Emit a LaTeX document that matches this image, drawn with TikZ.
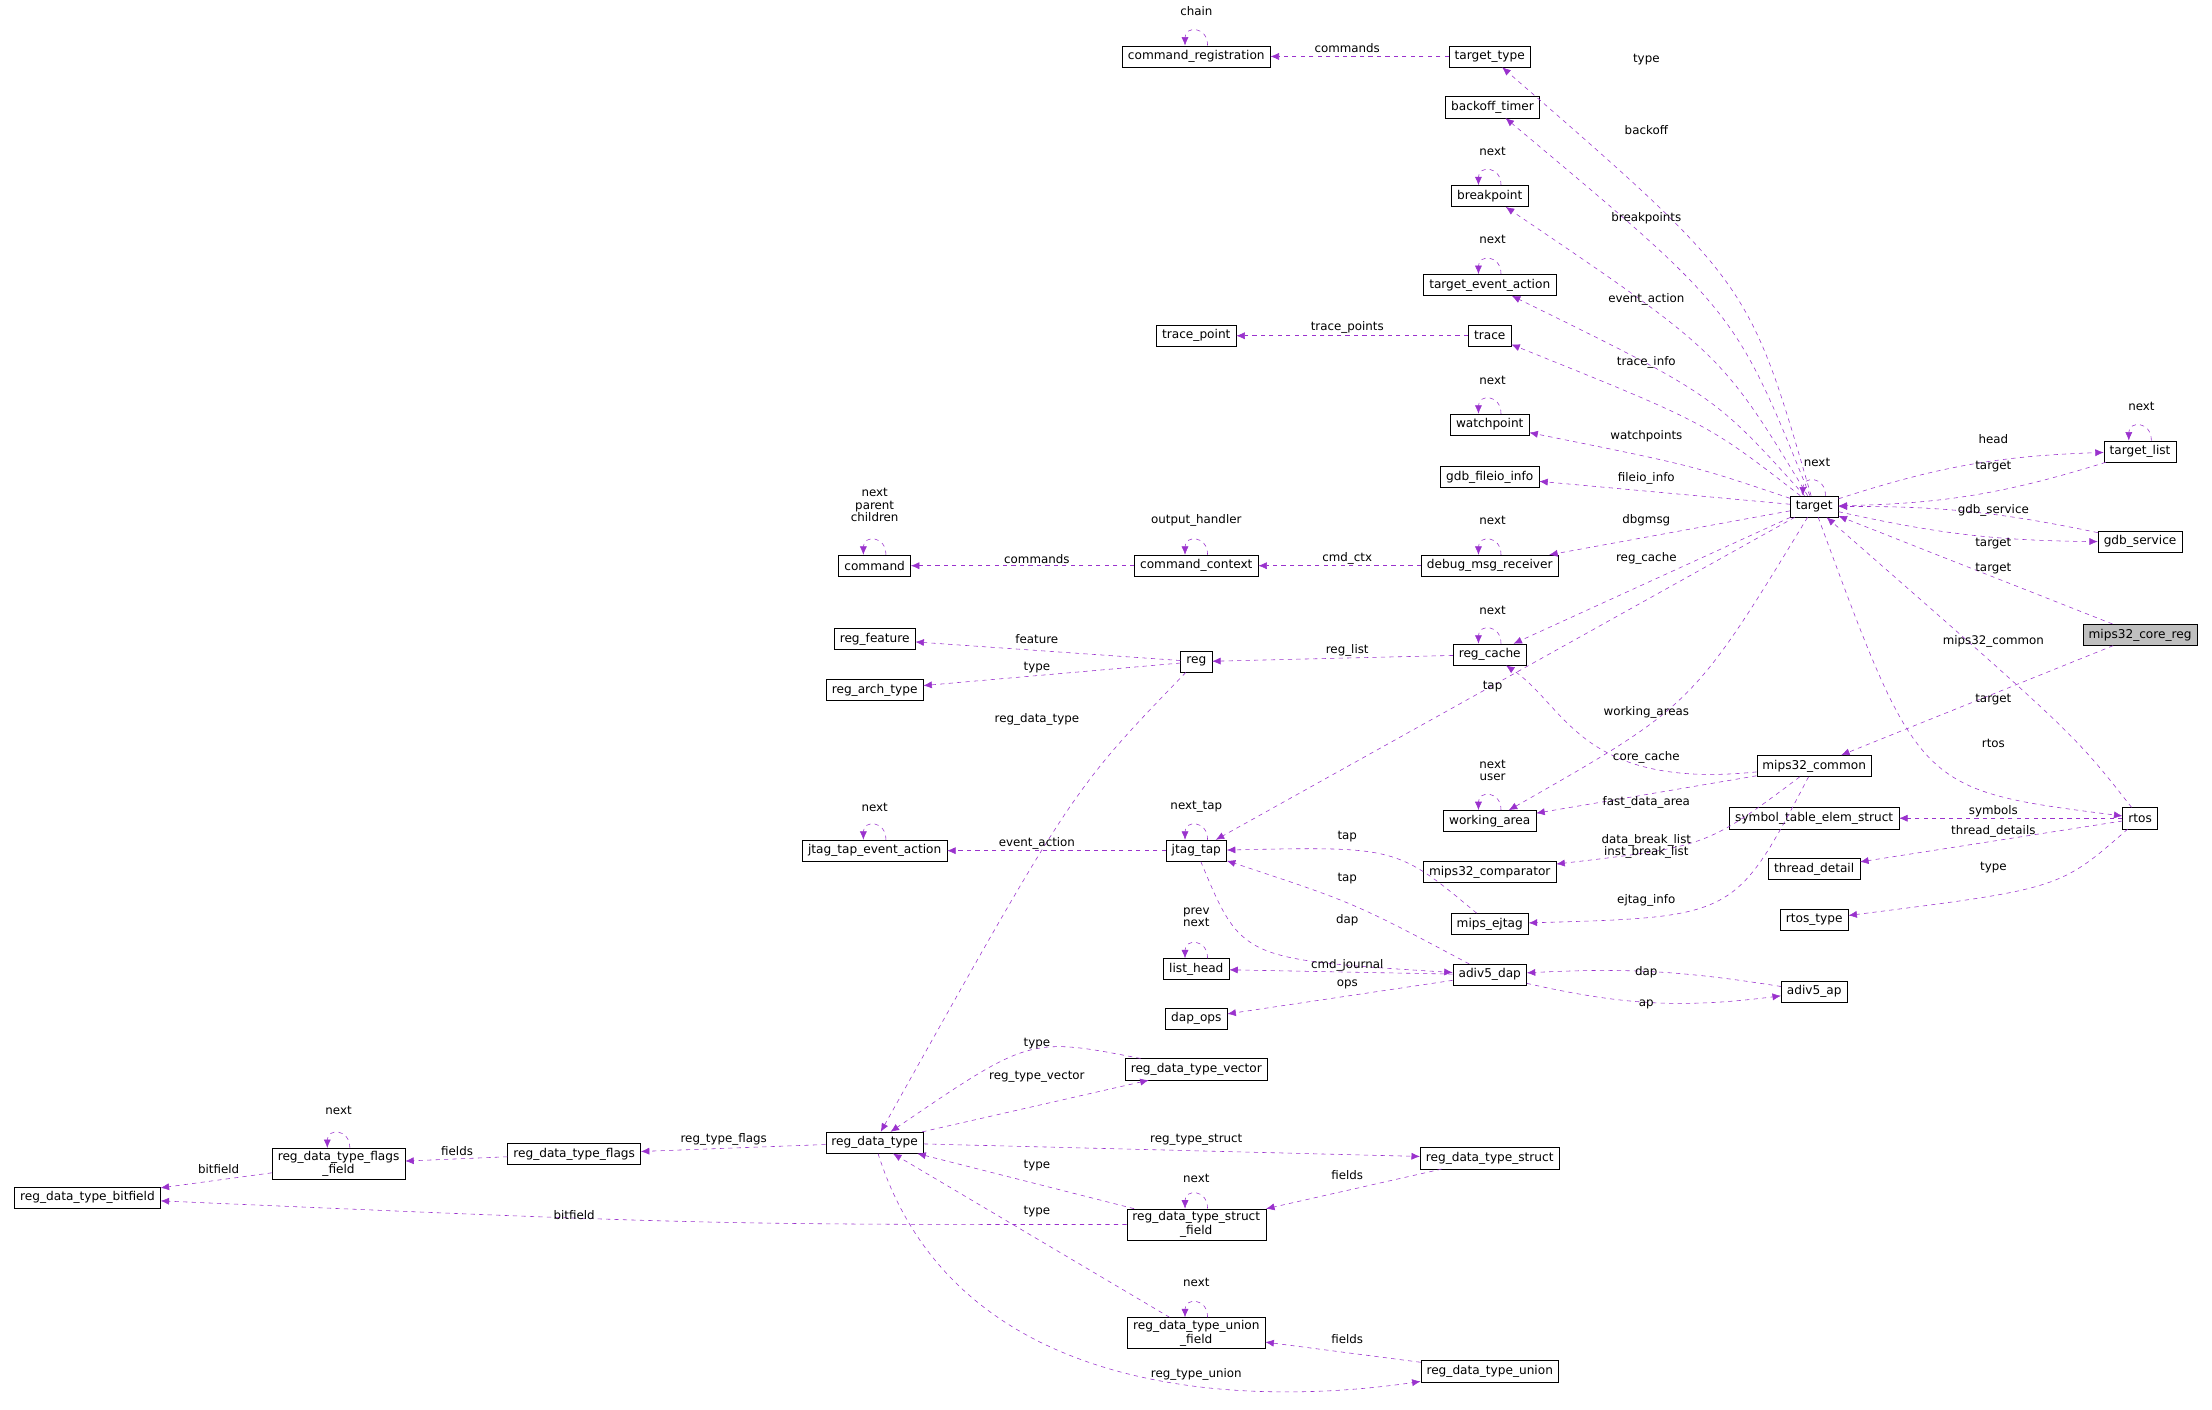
\documentclass[tikz,border=0pt]{standalone}
\usepackage{fontspec}
\setmainfont{DejaVu Sans}
\usetikzlibrary{arrows.meta,positioning}
\definecolor{dep}{HTML}{9A32CD}
\tikzset{
  box/.style={draw, fill=white, font=\fontsize{8.6}{9.5}\selectfont, inner xsep=4pt, inner ysep=2pt,
    minimum height=15pt, align=center},
  mainbox/.style={box, fill=black!25},
  lbl/.style={font=\fontsize{8.4}{8.8}\selectfont, inner sep=0pt, align=center},
  use/.style={draw=dep, dashed, -{Latex[length=6pt,width=5pt,fill=dep]}},
}
\newcommand{\loopon}[1]{%
  \draw[use] ([xshift=8pt]#1.north) .. controls +(0,-14) and +(0,-14) .. ([xshift=-8pt]#1.north);}
\begin{document}
\begin{tikzpicture}[x=1pt,y=-1pt]
\useasboundingbox[fill=white] (0,0) rectangle (1568,999);

% nodes
\node[box] (cmdreg) at (848,40) {command\_registration};
\node[box] (ttype) at (1056,40) {target\_type};
\node[box] (backoff) at (1058,76) {backoff\_timer};
\node[box] (bp) at (1056,139) {breakpoint};
\node[box] (tea) at (1056,202) {target\_event\_action};
\node[box] (tpoint) at (848,238) {trace\_point};
\node[box] (trace) at (1056,238) {trace};
\node[box] (wp) at (1056,301) {watchpoint};
\node[box] (fileio) at (1056,338) {gdb\_fileio\_info};
\node[box] (target) at (1286,359) {target};
\node[box] (tlist) at (1517,320) {target\_list};
\node[box] (gdbs) at (1517,384) {gdb\_service};
\node[mainbox] (mcr) at (1517,450) {mips32\_core\_reg};
\node[box] (command) at (620,401) {command};
\node[box] (cmdctx) at (848,401) {command\_context};
\node[box] (dmr) at (1056,401) {debug\_msg\_receiver};
\node[box] (rfeat) at (620,453) {reg\_feature};
\node[box] (reg) at (848,469) {reg};
\node[box] (rcache) at (1056,464) {reg\_cache};
\node[box] (rarch) at (620,489) {reg\_arch\_type};
\node[box] (m32c) at (1286,543) {mips32\_common};
\node[box] (rtos) at (1517,580) {rtos};
\node[box] (symt) at (1286,580) {symbol\_table\_elem\_struct};
\node[box] (thd) at (1286,616) {thread\_detail};
\node[box] (rtype) at (1286,652) {rtos\_type};
\node[box] (warea) at (1056,582) {working\_area};
\node[box] (jtea) at (620,603) {jtag\_tap\_event\_action};
\node[box] (jtap) at (848,603) {jtag\_tap};
\node[box] (mcomp) at (1056,618) {mips32\_comparator};
\node[box] (ejtag) at (1056,655) {mips\_ejtag};
\node[box] (lhead) at (848,687) {list\_head};
\node[box] (dap) at (1056,691) {adiv5\_dap};
\node[box] (ap) at (1286,703) {adiv5\_ap};
\node[box] (dops) at (848,722) {dap\_ops};
\node[box] (rvec) at (848,758) {reg\_data\_type\_vector};
\node[box] (rdt) at (620,810) {reg\_data\_type};
\node[box] (rflags) at (407,818) {reg\_data\_type\_flags};
\node[box] (rff) at (240,825) {reg\_data\_type\_flags\\\_field};
\node[box] (rbit) at (62,849) {reg\_data\_type\_bitfield};
\node[box] (rstruct) at (1056,821) {reg\_data\_type\_struct};
\node[box] (rsf) at (848,868) {reg\_data\_type\_struct\\\_field};
\node[box] (ruf) at (848,945) {reg\_data\_type\_union\\\_field};
\node[box] (runion) at (1056,972) {reg\_data\_type\_union};

% connectors
\draw[use] (ttype) -- (cmdreg);
\loopon{cmdreg}
\draw[use] (target) .. controls (1240,200) .. (ttype);
\draw[use] (target) .. controls (1230,220) .. (backoff);
\draw[use] (target) .. controls (1220,250) .. (bp);
\loopon{bp}
\draw[use] (target) .. controls (1215,280) .. (tea);
\loopon{tea}
\draw[use] (trace) -- (tpoint);
\draw[use] (target) .. controls (1210,300) .. (trace);
\draw[use] (target) .. controls (1200,330) .. (wp);
\loopon{wp}
\draw[use] (target) -- (fileio);
\loopon{target}
\draw[use] (target) to[bend left=8] (tlist);
\draw[use] (tlist) to[bend left=8] (target);
\loopon{tlist}
\draw[use] (target) to[bend right=6] (gdbs);
\draw[use] (gdbs) to[bend right=6] (target);
\draw[use] (mcr) -- (target);
\draw[use] (mcr) -- (m32c);
\draw[use] (target) -- (dmr);
\loopon{dmr}
\draw[use] (dmr) -- (cmdctx);
\loopon{cmdctx}
\draw[use] (cmdctx) -- (command);
\loopon{command}
\draw[use] (target) -- (rcache);
\loopon{rcache}
\draw[use] (rcache) -- (reg);
\draw[use] (reg) -- (rfeat);
\draw[use] (reg) -- (rarch);
\draw[use] (reg) .. controls (760,560) .. (rdt);
\draw[use] (target) -- (jtap);
\draw[use] (target) .. controls (1200,500) .. (warea);
\loopon{warea}
\draw[use] (m32c) .. controls (1120,560) and (1110,500) .. (rcache);
\draw[use] (m32c) -- (warea);
\draw[use] (m32c) .. controls (1210,600) .. (mcomp);
\draw[use] (m32c) .. controls (1230,650) .. (ejtag);
\draw[use] (rtos) .. controls (1470,520) .. (target);
\draw[use] (target) .. controls (1360,560) .. (rtos);
\draw[use] (rtos) -- (symt);
\draw[use] (rtos) -- (thd);
\draw[use] (rtos) .. controls (1460,630) .. (rtype);
\draw[use] (jtap) -- (jtea);
\loopon{jtap}
\loopon{jtea}
\draw[use] (ejtag) .. controls (990,600) .. (jtap);
\draw[use] (dap) .. controls (960,640) .. (jtap);
\draw[use] (jtap) .. controls (880,680) .. (dap);
\draw[use] (dap) -- (lhead);
\loopon{lhead}
\draw[use] (dap) -- (dops);
\draw[use] (ap) to[bend right=6] (dap);
\draw[use] (dap) to[bend right=10] (ap);
\draw[use] (rvec) .. controls (730,735) .. (rdt);
\draw[use] (rdt) -- (rvec);
\draw[use] (rdt) -- (rflags);
\draw[use] (rflags) -- (rff);
\loopon{rff}
\draw[use] (rff) -- (rbit);
\draw[use] (rdt) -- (rstruct);
\draw[use] (rstruct) -- (rsf);
\draw[use] (rsf) -- (rdt);
\loopon{rsf}
\draw[use] (rsf) .. controls (500,868) .. (rbit);
\draw[use] (ruf) -- (rdt);
\loopon{ruf}
\draw[use] (runion) -- (ruf);
\draw[use] (rdt) .. controls (680,1000) and (900,995) .. (runion);

% labels
\node[lbl] (l1) at (848,8) {chain};
\node[lbl] (l2) at (955,34) {commands};
\node[lbl] (l3) at (1167,42) {type};
\node[lbl] (l4) at (1167,92) {backoff};
\node[lbl] (l5) at (1058,107) {next};
\node[lbl] (l6) at (1167,155) {breakpoints};
\node[lbl] (l7) at (1058,170) {next};
\node[lbl] (l8) at (1167,212) {event\_action};
\node[lbl] (l9) at (955,232) {trace\_points};
\node[lbl] (l10) at (1167,257) {trace\_info};
\node[lbl] (l11) at (1058,270) {next};
\node[lbl] (l12) at (1167,309) {watchpoints};
\node[lbl] (l13) at (1167,339) {fileio\_info};
\node[lbl] (l14) at (1288,328) {next};
\node[lbl] (l15) at (1413,311) {head};
\node[lbl] (l16) at (1413,331) {target};
\node[lbl] (l17) at (1518,288) {next};
\node[lbl] (l18) at (1413,362) {gdb\_service};
\node[lbl] (l19) at (1413,385) {target};
\node[lbl] (l20) at (1413,403) {target};
\node[lbl] (l21) at (1167,369) {dbgmsg};
\node[lbl] (l22) at (1058,369) {next};
\node[lbl] (l23) at (848,369) {output\_handler};
\node[lbl] (l24) at (955,396) {cmd\_ctx};
\node[lbl] (l25) at (735,396) {commands};
\node[lbl] (l26) at (620,358) {next\\parent\\children};
\node[lbl] (l27) at (1167,396) {reg\_cache};
\node[lbl] (l28) at (1058,433) {next};
\node[lbl] (l29) at (735,453) {feature};
\node[lbl] (l30) at (735,473) {type};
\node[lbl] (l31) at (955,461) {reg\_list};
\node[lbl] (l32) at (1413,455) {mips32\_common};
\node[lbl] (l33) at (1058,487) {tap};
\node[lbl] (l34) at (1167,505) {working\_areas};
\node[lbl] (l35) at (735,510) {reg\_data\_type};
\node[lbl] (l36) at (1413,496) {target};
\node[lbl] (l37) at (1413,527) {rtos};
\node[lbl] (l38) at (1167,537) {core\_cache};
\node[lbl] (l39) at (1058,546) {next\\user};
\node[lbl] (l40) at (1167,569) {fast\_data\_area};
\node[lbl] (l41) at (620,572) {next};
\node[lbl] (l42) at (848,572) {next\_tap};
\node[lbl] (l43) at (1413,575) {symbols};
\node[lbl] (l44) at (1413,589) {thread\_details};
\node[lbl] (l45) at (1167,600) {data\_break\_list\\inst\_break\_list};
\node[lbl] (l46) at (735,598) {event\_action};
\node[lbl] (l47) at (955,593) {tap};
\node[lbl] (l48) at (1413,615) {type};
\node[lbl] (l49) at (955,623) {tap};
\node[lbl] (l50) at (1167,638) {ejtag\_info};
\node[lbl] (l51) at (848,650) {prev\\next};
\node[lbl] (l52) at (955,652) {dap};
\node[lbl] (l53) at (955,684) {cmd\_journal};
\node[lbl] (l54) at (955,698) {ops};
\node[lbl] (l55) at (1167,689) {dap};
\node[lbl] (l56) at (1167,712) {ap};
\node[lbl] (l57) at (735,740) {type};
\node[lbl] (l58) at (735,763) {reg\_type\_vector};
\node[lbl] (l59) at (240,787) {next};
\node[lbl] (l60) at (324,816) {fields};
\node[lbl] (l61) at (155,829) {bitfield};
\node[lbl] (l62) at (513,808) {reg\_type\_flags};
\node[lbl] (l63) at (848,808) {reg\_type\_struct};
\node[lbl] (l64) at (955,833) {fields};
\node[lbl] (l65) at (848,835) {next};
\node[lbl] (l66) at (735,826) {type};
\node[lbl] (l67) at (407,861) {bitfield};
\node[lbl] (l68) at (735,859) {type};
\node[lbl] (l69) at (848,909) {next};
\node[lbl] (l70) at (955,949) {fields};
\node[lbl] (l71) at (848,974) {reg\_type\_union};
\end{tikzpicture}
\end{document}
